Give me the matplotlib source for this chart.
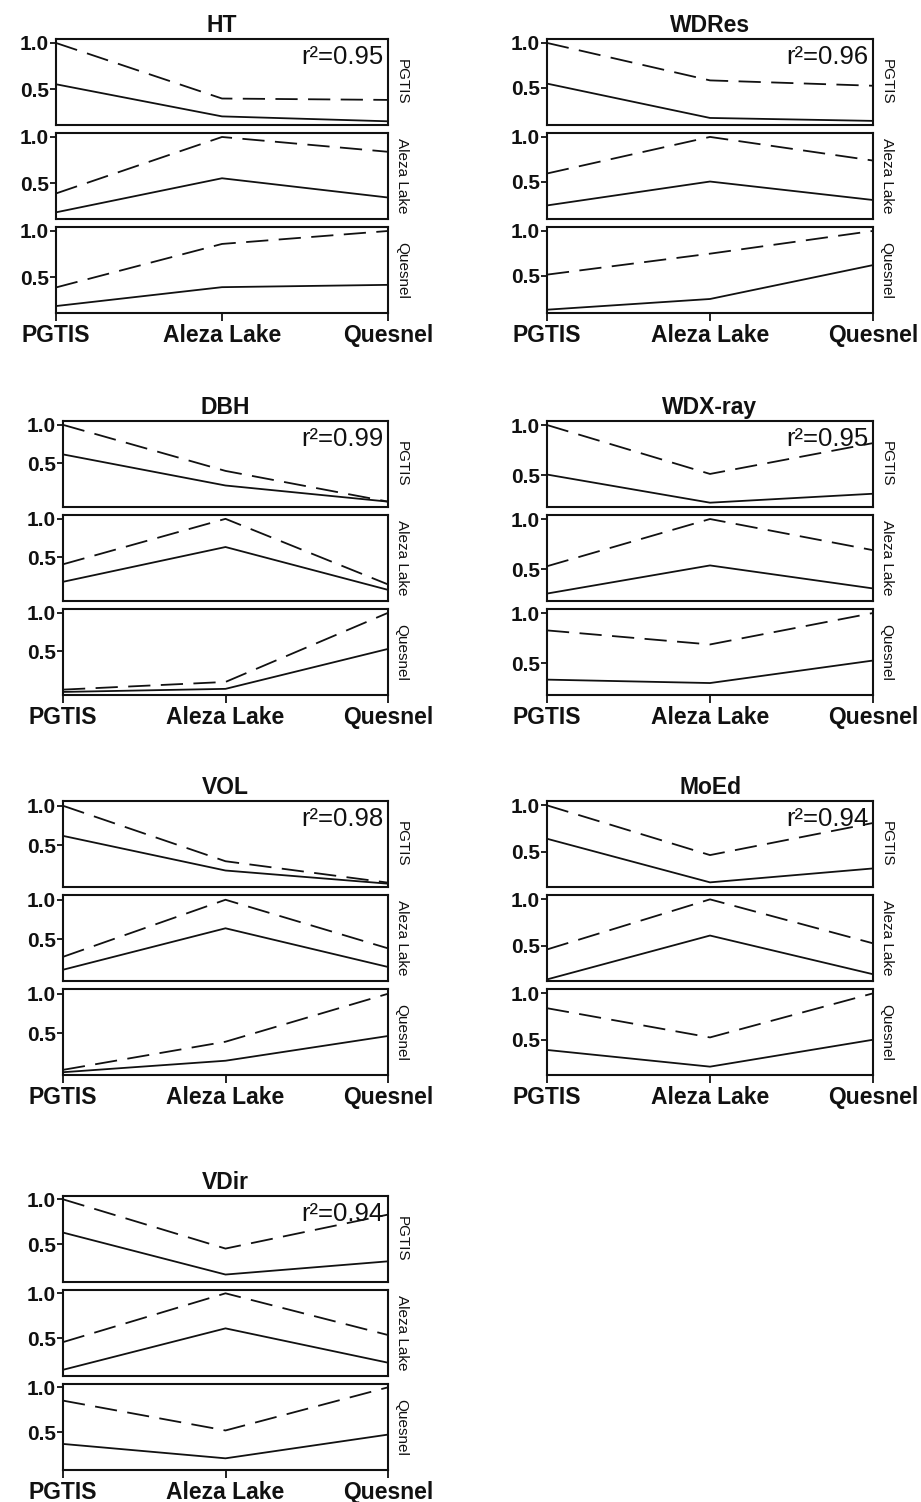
import matplotlib
matplotlib.use("Agg")
import matplotlib.pyplot as plt

# ── Data ──────────────────────────────────────────────────────────────────
SITES  = ["PGTIS", "Aleza Lake", "Quesnel"]
TRAITS = ["HT", "WDRes", "DBH", "WDX-ray", "VOL", "MoEd", "VDir"]
R2     = ["0.95", "0.96", "0.99", "0.95", "0.98", "0.94", "0.94"]

# one row per stacked subplot (PGTIS, Aleza Lake, Quesnel), values at the 3 x sites
HT_DASH   = [[1.00, 0.40, 0.385], [0.39, 1.00, 0.84], [0.39, 0.86, 1.00]]
HT_SOLID  = [[0.554, 0.207, 0.154], [0.186, 0.554, 0.346], [0.189, 0.393, 0.418]]

WDRES_DASH  = [[1.00, 0.58, 0.52], [0.59, 1.00, 0.735], [0.51, 0.745, 1.00]]
WDRES_SOLID = [[0.544, 0.159, 0.126], [0.232, 0.50, 0.293], [0.117, 0.237, 0.617]]

DBH_DASH  = [[1.00, 0.40, 0.00], [0.408, 1.00, 0.146], [0.00, 0.10, 1.00]]
DBH_SOLID = [[0.615, 0.21, 0.00], [0.18, 0.633, 0.075], [-0.03, 0.01, 0.53]]

WDX_DASH  = [[1.00, 0.513, 0.82], [0.53, 1.00, 0.69], [0.827, 0.687, 1.00]]
WDX_SOLID = [[0.507, 0.227, 0.316], [0.258, 0.538, 0.309], [0.337, 0.303, 0.527]]

VOL_DASH  = [[1.00, 0.30, 0.03], [0.28, 1.00, 0.387], [0.04, 0.395, 1.00]]
VOL_SOLID = [[0.62, 0.183, 0.017], [0.117, 0.64, 0.152], [0.01, 0.155, 0.467]]

MOED_DASH  = [[1.00, 0.464, 0.81], [0.46, 1.00, 0.526], [0.84, 0.525, 1.00]]
MOED_SOLID = [[0.64, 0.17, 0.32], [0.137, 0.61, 0.193], [0.39, 0.21, 0.50]]

VDIR_DASH  = [[1.00, 0.452, 0.83], [0.457, 1.00, 0.536], [0.852, 0.52, 1.00]]
VDIR_SOLID = [[0.63, 0.163, 0.31], [0.149, 0.61, 0.228], [0.37, 0.21, 0.474]]

DASH  = [HT_DASH, WDRES_DASH, DBH_DASH, WDX_DASH, VOL_DASH, MOED_DASH, VDIR_DASH]
SOLID = [HT_SOLID, WDRES_SOLID, DBH_SOLID, WDX_SOLID, VOL_SOLID, MOED_SOLID, VDIR_SOLID]

# ── Layout (pixels) ───────────────────────────────────────────────────────
W, H = 921, 1502
YLIMS  = [(0.114, 1.043), (0.08, 1.044), (-0.07, 1.05), (0.184, 1.04),
          (-0.025, 1.06), (0.12, 1.047), (0.08, 1.037)]
LEFTS  = [[56, 547], [63, 547], [63, 547], [63, 547]]
RIGHTS = [388, 873]
TOPS   = [39, 421, 801, 1196]
SUB_H, SUB_STEP = 86, 94
INK = "#111111"

plt.rcParams["font.family"] = ["Liberation Sans", "DejaVu Sans"]
plt.rcParams["lines.scale_dashes"] = False

fig = plt.figure(figsize=(W / 100, H / 100), dpi=100)


def px_axes(x0, y0, w, h):
    return fig.add_axes([x0 / W, 1 - (y0 + h) / H, w / W, h / H])


for i, trait in enumerate(TRAITS):
    row, col = divmod(i, 2)
    left, right = LEFTS[row][col], RIGHTS[col]
    for k, site in enumerate(SITES):
        ax = px_axes(left, TOPS[row] + k * SUB_STEP, right - left, SUB_H)
        ax.plot(range(3), DASH[i][k], color=INK, lw=1.3, dashes=(16, 7.5))
        ax.plot(range(3), SOLID[i][k], color=INK, lw=1.3)
        ax.set_xlim(0, 2)
        ax.set_ylim(*YLIMS[i])
        ax.set_yticks([0.5, 1.0])
        ax.set_yticklabels(["0.5", "1.0"], fontweight="bold", fontsize=15)
        ax.tick_params(axis="y", direction="out", length=4.5, width=1.3,
                       pad=0.5, colors=INK)
        for sp in ax.spines.values():
            sp.set_linewidth(1.5)
            sp.set_color(INK)
        if k < 2:
            ax.tick_params(axis="x", bottom=False, labelbottom=False)
        else:
            ax.set_xticks(range(3))
            ax.set_xticklabels(SITES, fontweight="bold", fontsize=16.5)
            ax.tick_params(axis="x", direction="out", length=6, width=1.3,
                           pad=2, colors=INK)
        ax.text(1.042, 0.5, site, transform=ax.transAxes, rotation=270,
                ha="center", va="center", fontsize=11, color=INK)
        if k == 0:
            ax.set_title(trait, fontweight="bold", fontsize=16.5, pad=5, color=INK)
            ax.text(0.985, 0.93, f"r²={R2[i]}", transform=ax.transAxes,
                    ha="right", va="top", fontsize=18.5, color=INK)

fig.savefig("out.png", dpi=100, facecolor="white")
